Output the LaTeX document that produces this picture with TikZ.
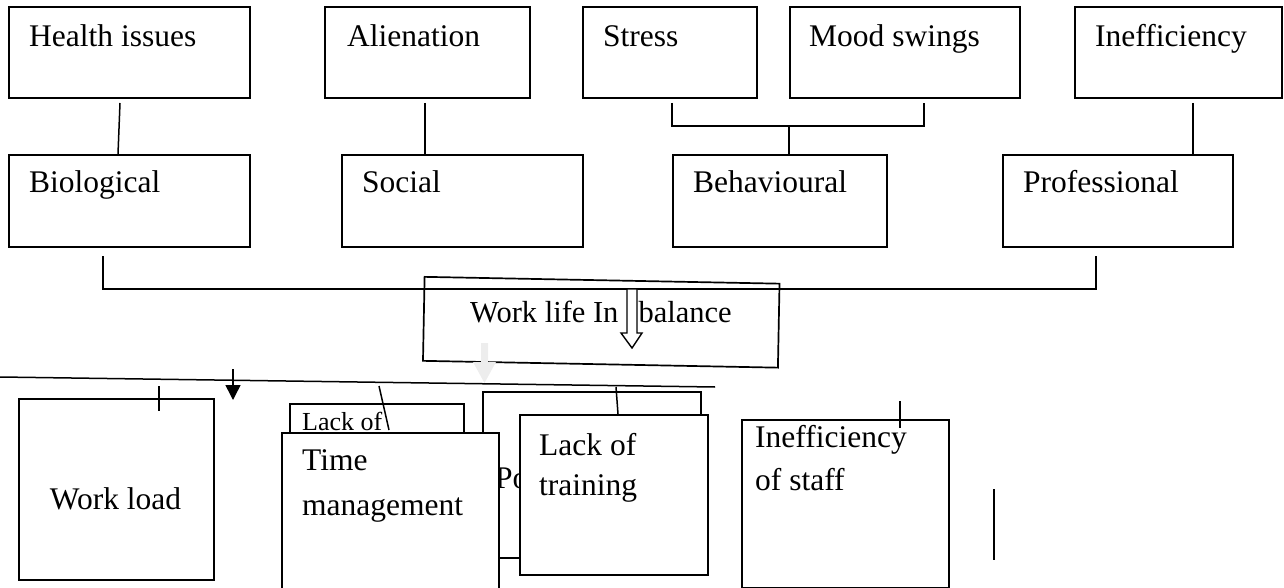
\documentclass[tikz,border=0pt]{standalone}
\usepackage{fontspec}
\setmainfont{Liberation Serif}
\usetikzlibrary{arrows.meta}
\newcommand\boxfont{\fontsize{31.5}{40}\selectfont}
\newcommand\smallboxfont{\fontsize{26}{30}\selectfont}
\begin{document}
\begin{tikzpicture}[x=1pt,y=-1pt,
  box/.style={draw, line width=1.7pt, rectangle, inner sep=0pt, anchor=north west, fill=white},
  lbl/.style={font=\boxfont, anchor=base west, inner sep=0pt, align=left},
  conn/.style={line width=1.5pt},
]
\useasboundingbox (0,0) rectangle (1284,588);
\clip (0,0) rectangle (1284,588);

% ---- effects (top row) ----
\node[box, minimum width=241pt, minimum height=91pt] (health) at (8,6) {};
\node[box, minimum width=205pt, minimum height=91pt] (alien)  at (324,6) {};
\node[box, minimum width=174pt, minimum height=91pt] (stress) at (582,6) {};
\node[box, minimum width=230pt, minimum height=91pt] (mood)   at (789,6) {};
\node[box, minimum width=207pt, minimum height=91pt] (ineff)  at (1074,6) {};
\node[lbl] (health-t) at (29,47)   {Health issues};
\node[lbl] (alien-t)  at (347,47)  {Alienation};
\node[lbl] (stress-t) at (603,47)  {Stress};
\node[lbl] (mood-t)   at (809,47)  {Mood swings};
\node[lbl] (ineff-t)  at (1095,47) {Inefficiency};

% ---- dimensions (second row) ----
\node[box, minimum width=241pt, minimum height=92pt] (bio)    at (8,154) {};
\node[box, minimum width=241pt, minimum height=92pt] (social) at (341,154) {};
\node[box, minimum width=214pt, minimum height=92pt] (behav)  at (672,154) {};
\node[box, minimum width=230pt, minimum height=92pt] (prof)   at (1002,154) {};
\node[lbl] (bio-t)    at (29,193)   {Biological};
\node[lbl] (social-t) at (362,193)  {Social};
\node[lbl] (behav-t)  at (693,193)  {Behavioural};
\node[lbl] (prof-t)   at (1023,193) {Professional};

% ---- links between the two rows ----
\coordinate (h1) at (120,103);  \coordinate (h2) at (118,154);
\coordinate (a1) at (425,103);  \coordinate (a2) at (425,154);
\coordinate (s1) at (672,103);  \coordinate (s2) at (672,126);
\coordinate (m1) at (924,103);  \coordinate (m2) at (924,126);
\coordinate (b1) at (789,126);  \coordinate (b2) at (789,154);
\coordinate (i1) at (1193,103); \coordinate (i2) at (1193,154);
\draw[conn] (h1) -- (h2);
\draw[conn] (a1) -- (a2);
\draw[conn] (s1) -- (s2) -- (m2) -- (m1);
\draw[conn] (b1) -- (b2);
\draw[conn] (i1) -- (i2);

% ---- bracket joining the dimensions ----
\coordinate (k1) at (103,256);  \coordinate (k2) at (103,289);
\coordinate (k3) at (1096,289); \coordinate (k4) at (1096,256);
\draw[conn] (k1) -- (k2) -- (k3) -- (k4);

% ---- central box ----
\node[draw, line width=1.7pt, rectangle, inner sep=0pt, rotate=-1.1,
      minimum width=355pt, minimum height=84pt] (wl) at (601.25,322.25) {};
\node[lbl, font=\fontsize{30.5}{36}\selectfont] (wl-t) at (470,322) {Work life In\hspace{20pt}balance};
\draw[line width=1.4pt, fill=white]
  (627,289) -- (627,333) -- (621,333) -- (632,348) -- (642,333) -- (637,333) -- (637,289) -- cycle;
\fill[black!7] (481,343) -- (488,343) -- (488,362) -- (496,362) -- (484.5,383) -- (473,362) -- (481,362) -- cycle;

% ---- causes line ----
\coordinate (c1) at (0,377); \coordinate (c2) at (715,387);
\draw[conn] (c1) -- (c2);
\coordinate (d1) at (233,369); \coordinate (d2) at (233,400);
\draw[conn, -{Triangle[width=15pt,length=15pt]}] (d1) -- (d2);

% ---- causes (bottom row) ----
\node[box, minimum width=195pt, minimum height=181pt] (load) at (18,398) {};
\node[font=\boxfont, anchor=base, inner sep=0pt] (load-t) at (115.5,509) {Work load};
\coordinate (t1) at (159,386); \coordinate (t2) at (159,411);
\draw[conn] (t1) -- (t2);

\node[box, minimum width=174pt, minimum height=150pt] (lack) at (289,403) {};
\node[font=\smallboxfont, anchor=base west, inner sep=0pt] (lack-t) at (302,430) {Lack of};
\coordinate (l1) at (379,386); \coordinate (l2) at (389,430);
\draw[conn] (l1) -- (l2);

\node[box, minimum width=218pt, minimum height=166pt] (po) at (482,391) {};
\node[font=\boxfont, anchor=base west, inner sep=0pt] (po-t) at (495,488) {Po};
\coordinate (p1) at (616,387); \coordinate (p2) at (618,414);
\draw[conn] (p1) -- (p2);

% multi-line labels: the base anchor sits on the last line
\node[box, minimum width=217pt, minimum height=175pt] (time) at (281,432) {};
\node[lbl, font=\fontsize{31.5}{45}\selectfont] (time-t) at (302,515) {Time\\management};

\node[box, minimum width=188pt, minimum height=160pt] (train) at (519,414) {};
\node[lbl] (train-t) at (539,495) {Lack of\\training};

\node[box, minimum width=207pt, minimum height=168pt] (staff) at (741,419) {};
\node[lbl, font=\fontsize{31.5}{43}\selectfont] (staff-t) at (755,490) {Inefficiency\\of staff};
\coordinate (f1) at (900,401); \coordinate (f2) at (900,428);
\draw[conn] (f1) -- (f2);

\coordinate (v1) at (994,489); \coordinate (v2) at (994,560);
\draw[conn] (v1) -- (v2);
\end{tikzpicture}
\end{document}
